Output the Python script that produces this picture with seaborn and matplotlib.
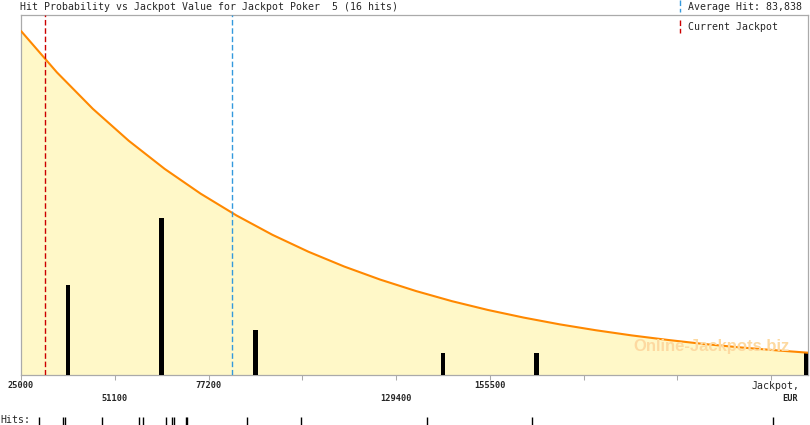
import numpy as np
import matplotlib
matplotlib.use('Agg')
import matplotlib.pyplot as plt
import seaborn as sns
from matplotlib.lines import Line2D

# Datos
titulo = 'Hit Probability vs Jackpot Value for Jackpot Poker  5 (16 hits)'
premio_medio = 83838
bote_actual = 31700

# premios registrados (EUR)
premios = [30100, 36600, 37250, 47600, 57950, 58900, 65350, 66950, 67600,
           71000, 71300, 88000, 103050, 137950, 167350, 234450]

# curva de probabilidad (en unidades de "hits")
curva_x = [25000, 35000, 45000, 55000, 65000, 75000, 85000, 95000, 105000,
           115000, 125000, 135000, 145000, 155000, 165000, 175000, 185000,
           195000, 205000, 215000, 225000, 235000, 245000]
curva_y = [15.29, 13.45, 11.83, 10.41, 9.16, 8.06, 7.09, 6.23, 5.48,
           4.82, 4.24, 3.73, 3.28, 2.89, 2.55, 2.25, 1.99,
           1.76, 1.56, 1.38, 1.23, 1.10, 0.98]

# marcas del eje x
ticks_x = [25000, 51100, 77200, 103300, 129400, 155500, 181600, 207700, 233800]
etiquetas_fila1 = {25000: '25000', 77200: '77200', 155500: '155500'}
etiquetas_fila2 = {51100: '51100', 129400: '129400'}

x_min, x_max = 25000, 244100
y_max = 16

sns.set_style('white')
plt.rcParams['font.family'] = ['DejaVu Sans Mono', 'DejaVu Sans']

W, H = 810, 425
fig = plt.figure(figsize=(W / 100, H / 100), dpi=100)
ax = fig.add_axes([21 / W, 1 - 375 / H, 787 / W, 360 / H])

gris = '#aaaaaa'
rojo = '#cc0000'
azul = '#3399dd'

# relleno bajo la curva
ax.fill_between(curva_x, 0, curva_y, color='#fff8c8', zorder=1, lw=0)
fig.text(790 / W, 1 - 347 / H, 'Online-Jackpots.biz', ha='right', va='center',
         fontsize=12, fontweight='bold', color='#fdd9a0', family='Liberation Sans', zorder=2)

# histograma de premios
bordes = [ticks_x[0] + 26100 * k for k in range(10)]
conteos, _ = np.histogram(premios, bins=bordes)
centros = [(bordes[i] + bordes[i + 1]) / 2 for i in range(len(conteos))]
ancho = 1250
centros = [min(c, x_max - ancho / 2) for c in centros]
ax.bar(centros, conteos, width=ancho, color='black', lw=0, zorder=3)

sns.lineplot(x=curva_x, y=curva_y, color='#ff8800', lw=1.5, ax=ax, zorder=4)

# lineas de premio medio y bote actual
ax.axvline(premio_medio, color=azul, lw=1.0, dashes=(4, 2), zorder=5)
ax.axvline(bote_actual, color=rojo, lw=1.0, dashes=(4, 2), zorder=5)

ax.set_xlim(x_min, x_max)
ax.set_ylim(0, y_max)
ax.set_yticks([])
ax.set_xticks(ticks_x)
ax.set_xticklabels([])
ax.tick_params(axis='x', direction='out', length=3.6, width=0.75, color=gris, bottom=True)
for lado in ['left', 'bottom', 'top', 'right']:
    ax.spines[lado].set_color(gris)
    ax.spines[lado].set_linewidth(0.9)
ax.set_xlabel('')
ax.set_ylabel('')

trans = ax.get_xaxis_transform()
for v, t in etiquetas_fila1.items():
    ax.text(v, -0.028, t, transform=trans, ha='center', va='center', fontsize=6.2, fontweight='bold')
for v, t in etiquetas_fila2.items():
    ax.text(v, -0.064, t, transform=trans, ha='center', va='center', fontsize=6.2, fontweight='bold')
ax.text(0.9898, -0.03, 'Jackpot,', transform=ax.transAxes, ha='right', va='center', fontsize=7.1)
ax.text(0.9872, -0.064, 'EUR', transform=ax.transAxes, ha='right', va='center', fontsize=6.2, fontweight='bold')

# titulo y leyenda
fig.text(20 / W, 1 - 7 / H, titulo, ha='left', va='center', fontsize=7.1)
fig.add_artist(Line2D([680 / W, 680 / W], [1 - 0 / H, 1 - 12 / H], transform=fig.transFigure,
                      color=azul, lw=1.0, dashes=(4, 2)))
fig.text(688 / W, 1 - 7 / H, 'Average Hit: 83,838', ha='left', va='center', fontsize=7.1)
fig.add_artist(Line2D([680 / W, 680 / W], [1 - 20 / H, 1 - 33 / H], transform=fig.transFigure,
                      color=rojo, lw=1.0, dashes=(4, 2), zorder=10))
fig.text(688 / W, 1 - 27 / H, 'Current Jackpot', ha='left', va='center', fontsize=7.1)

# marcas de premios abajo
ax_rug = fig.add_axes([21 / W, 0, 787 / W, 8 / H])
sns.rugplot(x=premios, ax=ax_rug, height=1, color='black', lw=1)
ax_rug.set_xlim(x_min, x_max)
ax_rug.set_ylim(0, 1)
ax_rug.axis('off')
fig.text(0, 1 - 420 / H, 'Hits:', ha='left', va='center', fontsize=7.1)

fig.savefig('out.png', dpi=100)
